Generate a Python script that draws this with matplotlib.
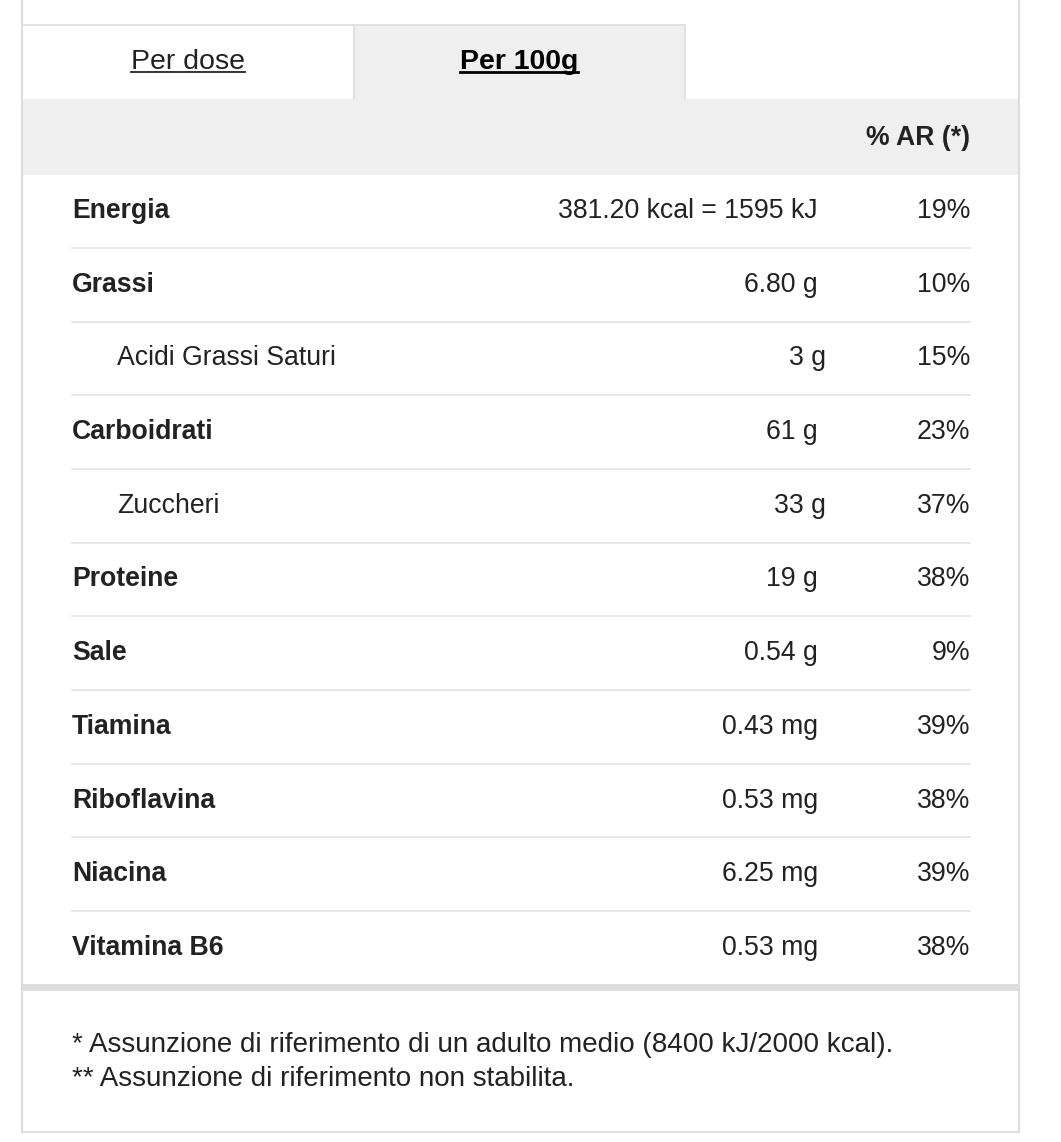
import matplotlib
matplotlib.use("Agg")
import matplotlib.pyplot as plt
from matplotlib.patches import Rectangle

tabs = ["Per dose", "Per 100g"]
header = "% AR (*)"
names = ["Energia", "Grassi", "Acidi Grassi Saturi", "Carboidrati", "Zuccheri", "Proteine",
         "Sale", "Tiamina", "Riboflavina", "Niacina", "Vitamina B6"]
sub = [False, False, True, False, True, False, False, False, False, False, False]
amounts = ["381.20 kcal = 1595 kJ", "6.80 g", "3 g", "61 g", "33 g", "19 g", "0.54 g",
           "0.43 mg", "0.53 mg", "6.25 mg", "0.53 mg"]
ar = ["19%", "10%", "15%", "23%", "37%", "38%", "9%", "39%", "38%", "39%", "38%"]
notes = ["* Assunzione di riferimento di un adulto medio (8400 kJ/2000 kcal).",
         "** Assunzione di riferimento non stabilita."]

W, H = 1061, 1142
fig = plt.figure(figsize=(W/100, H/100), dpi=100)
ax = fig.add_axes([0, 0, 1, 1])
ax.set_xlim(0, W); ax.set_ylim(H, 0); ax.axis("off")
FONT = "Liberation Sans"
FS = 19.2
txtc = "#222222"

ax.plot([22, 22], [0, 1132], color="#dddddd", lw=1.5)
ax.plot([1019, 1019], [0, 1132], color="#dddddd", lw=1.5)
ax.plot([22, 1019], [1132, 1132], color="#dddddd", lw=1.5)
ax.add_patch(Rectangle((22, 25), 332, 75, facecolor="white", edgecolor="#dddddd", lw=1.2))
ax.add_patch(Rectangle((354, 25), 331, 75, facecolor="#efefef", edgecolor="#dddddd", lw=1.2))
ax.add_patch(Rectangle((22, 99), 997, 76, facecolor="#efefef", edgecolor="none"))
t1 = ax.text(188, 62, tabs[0], ha="center", va="center", fontsize=20.5, family=FONT, color=txtc)
t2 = ax.text(519, 62, tabs[1], ha="center", va="center", fontsize=20.5, family=FONT,
             weight="bold", color="black")
ax.text(970, 138, header, ha="right", va="center", fontsize=FS, family=FONT, weight="bold", color=txtc)

y0, dy = 211, 73.7
for i, (n, s, a, p) in enumerate(zip(names, sub, amounts, ar)):
    y = y0 + i*dy
    ax.text(117 if s else 72, y, n, ha="left", va="center", fontsize=FS, family=FONT,
            weight="normal" if s else "bold", color=txtc)
    ax.text(826 if s else 818, y, a, ha="right", va="center",
            fontsize=FS, family=FONT, color=txtc)
    ax.text(970, y, p, ha="right", va="center", fontsize=FS, family=FONT, color=txtc)
    if i < len(names) - 1:
        ax.plot([72, 970], [y + dy/2, y + dy/2], color="#e3e3e3", lw=1.2)

ax.add_patch(Rectangle((22, 984), 997, 7, facecolor="#dddddd", edgecolor="none"))
for j, nt in enumerate(notes):
    ax.text(72, 1045 + j*34, nt, ha="left", va="center", fontsize=20, family=FONT, color=txtc)

fig.canvas.draw()
r = fig.canvas.get_renderer()
inv = ax.transData.inverted()
for t, lw in ((t1, 1.3), (t2, 2.0)):
    bb = t.get_window_extent(r)
    (xa, ya), (xb, yb) = inv.transform([(bb.x0, bb.y0), (bb.x1, bb.y1)])
    ax.plot([xa, xb], [ya - 3, ya - 3], color=t.get_color(), lw=lw)

fig.savefig("out.png", dpi=100, facecolor="white")
